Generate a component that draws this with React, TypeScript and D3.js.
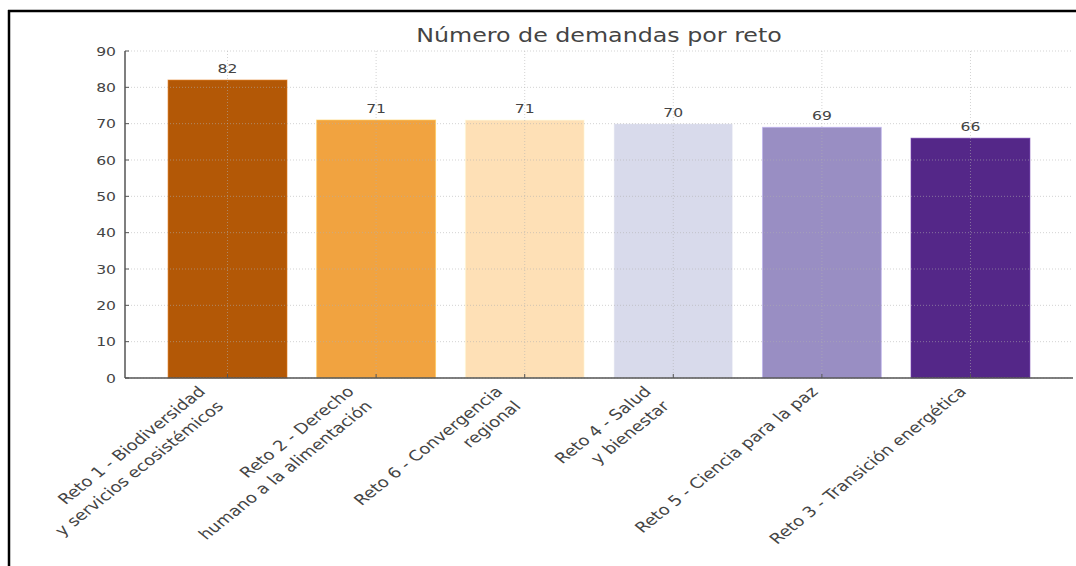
import React from "react";
import * as d3 from "d3";

const categories: string[][] = [
  ["Reto 1 - Biodiversidad", "y servicios ecosistémicos"],
  ["Reto 2 - Derecho", "humano a la alimentación"],
  ["Reto 6 - Convergencia", "regional"],
  ["Reto 4 - Salud", "y bienestar"],
  ["Reto 5 - Ciencia para la paz"],
  ["Reto 3 - Transición energética"],
];
const values: number[] = [82, 71, 71, 70, 69, 66];
const colors: string[] = ["#b35806", "#f1a340", "#fee0b6", "#d8daeb", "#998ec3", "#542788"];
const yTicks: number[] = [0, 10, 20, 30, 40, 50, 60, 70, 80, 90];
const title = "Número de demandas por reto";

const W = 1076;
const H = 566;
const left = 125;
const right = 1073;
const top = 51;
const bottom = 378;
const FONT = "'DejaVu Sans', sans-serif";
const SX = 1.25;

export default function App() {
  const n = categories.length;
  const x = d3.scaleLinear().domain([-0.69, n - 1 + 0.69]).range([left, right]);
  const y = d3.scaleLinear().domain([0, 90]).range([bottom, top]);
  const bw = x(0.4) - x(-0.4);
  const fs = 12.5;
  const xfs = 14.5;
  const lh = 20.5;
  const asc = 13.5;
  const desc = 3.4;
  const pad = 5;
  const sText = (tx: number, ty: number) => `translate(${tx},${ty}) scale(${SX},1)`;
  return (
    <svg width={W} height={H} style={{ position: "absolute", left: 0, top: 0, background: "#fff" }} fontFamily={FONT}>
      <rect x={0} y={0} width={W} height={H} fill="#fff" />
      {values.map((v, i) => (
        <rect key={i} x={x(i) - bw / 2} y={y(v)} width={bw} height={y(0) - y(v)} fill={colors[i]}
          stroke={d3.color(colors[i])!.brighter(0.6).formatHex()} strokeOpacity={0.6} strokeWidth={1} />
      ))}
      {yTicks.map((t) => (
        <line key={"gy" + t} x1={left} x2={right} y1={y(t)} y2={y(t)} stroke="#b0b0b0" strokeOpacity={0.7} strokeWidth={0.8} strokeDasharray="1,2" />
      ))}
      {values.map((_, i) => (
        <line key={"gx" + i} x1={x(i)} x2={x(i)} y1={top} y2={bottom} stroke="#b0b0b0" strokeOpacity={0.7} strokeWidth={0.8} strokeDasharray="1,2" />
      ))}
      <line x1={left} x2={left} y1={top} y2={bottom} stroke="#555" strokeWidth={1.5} />
      <line x1={left} x2={right} y1={bottom} y2={bottom} stroke="#555" strokeWidth={1.5} />
      {yTicks.map((t) => (
        <g key={"yt" + t}>
          <line x1={left} x2={left + 4} y1={y(t)} y2={y(t)} stroke="#555" strokeWidth={1} />
          <text transform={sText(left - 9, y(t))} dy="0.36em" textAnchor="end" fontSize={fs} fill="#444">{t}</text>
        </g>
      ))}
      {categories.map((lines, i) => {
        const px = x(i) - SX * ((lines.length - 1) * lh + desc) / Math.SQRT2;
        const py = bottom + pad + asc / Math.SQRT2;
        return (
          <g key={"xt" + i}>
            <line x1={x(i)} x2={x(i)} y1={bottom} y2={bottom - 4} stroke="#555" strokeWidth={1} />
            <text transform={`${sText(px, py)} rotate(-45)`} textAnchor="end" fontSize={xfs} fill="#444">
              {lines.map((l, j) => (
                <tspan key={j} x={0} y={j * lh}>{l}</tspan>
              ))}
            </text>
          </g>
        );
      })}
      {values.map((v, i) => (
        <text key={"v" + i} transform={sText(x(i), y(v) - 7)} textAnchor="middle" fontSize={fs} fill="#444">{v}</text>
      ))}
      <text transform={sText((left + right) / 2, 42.3)} textAnchor="middle" fontSize={19} fill="#444">{title}</text>
      <line x1={8} x2={W} y1={11} y2={11} stroke="#000" strokeWidth={2.5} />
      <line x1={9} x2={9} y1={10} y2={H} stroke="#000" strokeWidth={2.5} />
    </svg>
  );
}
